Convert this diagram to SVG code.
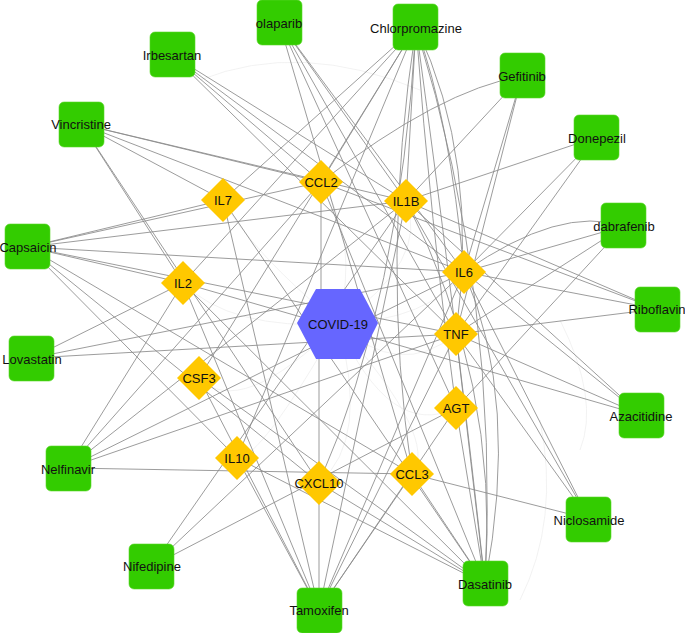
<svg xmlns="http://www.w3.org/2000/svg" width="685" height="633" viewBox="0 0 685 633">
<defs>
<style>
.e{stroke:#8a8a8a;stroke-width:0.85;fill:none}
.f{stroke:#efefef;stroke-width:0.8;fill:none}
.d rect{fill:#33CC00;stroke:#5ad62a;stroke-width:0.6}
.g polygon{fill:#FFC800}
.c polygon{fill:#6666FF}
text{font-family:"Liberation Sans",Arial,sans-serif;font-size:13px;fill:#111;text-anchor:middle;dominant-baseline:central}
</style>
</defs>
<rect width="685" height="633" fill="#fff"/>
<g id="connectors">
<g id="faint">
<path class="f" d="M338,324 Q250,250 223,200"/>
<path class="f" d="M338,324 Q360,240 321,182"/>
<path class="f" d="M338,324 Q430,260 406,201"/>
<path class="f" d="M338,324 Q230,330 183,283"/>
<path class="f" d="M338,324 Q430,320 464,272"/>
<path class="f" d="M338,324 Q400,380 456,334"/>
<path class="f" d="M338,324 Q240,420 199,378"/>
<path class="f" d="M338,324 Q390,440 456,408"/>
<path class="f" d="M338,324 Q260,460 237,458"/>
<path class="f" d="M338,324 Q370,440 319,483"/>
<path class="f" d="M338,324 Q440,440 412,474"/>
<path class="f" d="M200,80 Q300,40 420,90"/>
<path class="f" d="M540,420 Q560,520 520,600"/>
<path class="f" d="M560,320 Q600,400 580,450"/>
</g>
<line class="e" x1="321" y1="182" x2="321" y2="300"/>
<line class="e" x1="319" y1="350" x2="319" y2="610"/>
<!-- olaparib -->
<line class="e" x1="279" y1="22" x2="406" y2="201"/>
<line class="e" x1="279" y1="22" x2="464" y2="272"/>
<line class="e" x1="279" y1="22" x2="456" y2="334"/>
<line class="e" x1="279" y1="22" x2="412" y2="474"/>
<line class="e" x1="279" y1="22" x2="456" y2="408"/>
<!-- Irbesartan -->
<line class="e" x1="172" y1="55" x2="321" y2="182"/>
<line class="e" x1="172" y1="55" x2="406" y2="201"/>
<line class="e" x1="172" y1="55" x2="464" y2="272"/>
<line class="e" x1="172" y1="55" x2="456" y2="334"/>
<!-- Vincristine -->
<line class="e" x1="81" y1="124" x2="321" y2="182"/>
<line class="e" x1="81" y1="124" x2="406" y2="201"/>
<line class="e" x1="81" y1="124" x2="223" y2="200"/>
<line class="e" x1="81" y1="124" x2="183" y2="283"/>
<line class="e" x1="81" y1="124" x2="319" y2="483"/>
<line class="e" x1="81" y1="124" x2="464" y2="272"/>
<!-- Capsaicin -->
<line class="e" x1="28" y1="247" x2="223" y2="200"/>
<line class="e" x1="28" y1="247" x2="321" y2="182"/>
<line class="e" x1="28" y1="247" x2="406" y2="201"/>
<line class="e" x1="28" y1="247" x2="464" y2="272"/>
<line class="e" x1="28" y1="247" x2="456" y2="334"/>
<line class="e" x1="28" y1="247" x2="183" y2="283"/>
<line class="e" x1="28" y1="247" x2="319" y2="483"/>
<line class="e" x1="28" y1="247" x2="412" y2="474"/>
<line class="e" x1="28" y1="247" x2="237" y2="458"/>
<!-- Lovastatin -->
<line class="e" x1="32" y1="358" x2="183" y2="283"/>
<line class="e" x1="32" y1="358" x2="464" y2="272"/>
<line class="e" x1="32" y1="358" x2="456" y2="334"/>
<!-- Nelfinavir -->
<line class="e" x1="68" y1="468" x2="412" y2="474"/>
<line class="e" x1="68" y1="468" x2="464" y2="272"/>
<line class="e" x1="68" y1="468" x2="456" y2="334"/>
<line class="e" x1="68" y1="468" x2="406" y2="201"/>
<line class="e" x1="68" y1="468" x2="321" y2="182"/>
<line class="e" x1="68" y1="468" x2="183" y2="283"/>
<!-- Nifedipine -->
<line class="e" x1="152" y1="566" x2="406" y2="201"/>
<line class="e" x1="152" y1="566" x2="456" y2="408"/>
<line class="e" x1="152" y1="566" x2="464" y2="272"/>
<!-- Tamoxifen -->
<line class="e" x1="319" y1="610" x2="237" y2="458"/>
<line class="e" x1="319" y1="610" x2="199" y2="378"/>
<line class="e" x1="319" y1="610" x2="183" y2="283"/>
<line class="e" x1="319" y1="610" x2="223" y2="200"/>
<line class="e" x1="319" y1="610" x2="406" y2="201"/>
<line class="e" x1="319" y1="610" x2="464" y2="272"/>
<line class="e" x1="319" y1="610" x2="456" y2="334"/>
<line class="e" x1="319" y1="610" x2="456" y2="408"/>
<line class="e" x1="319" y1="610" x2="412" y2="474"/>
<!-- Dasatinib -->
<line class="e" x1="485" y1="584" x2="412" y2="474"/>
<line class="e" x1="485" y1="584" x2="456" y2="408"/>
<line class="e" x1="485" y1="584" x2="456" y2="334"/>
<line class="e" x1="485" y1="584" x2="321" y2="182"/>
<line class="e" x1="485" y1="584" x2="183" y2="283"/>
<line class="e" x1="485" y1="584" x2="237" y2="458"/>
<line class="e" x1="485" y1="584" x2="319" y2="483"/>
<line class="e" x1="485" y1="584" x2="199" y2="378"/>
<line class="e" x1="485" y1="584" x2="223" y2="200"/>
<path class="e" d="M485,584 Q500,380 406,201"/>
<path class="e" d="M485,584 Q520,400 464,272"/>
<!-- Niclosamide -->
<line class="e" x1="589" y1="519" x2="464" y2="272"/>
<line class="e" x1="589" y1="519" x2="456" y2="334"/>
<line class="e" x1="589" y1="519" x2="412" y2="474"/>
<line class="e" x1="589" y1="519" x2="406" y2="201"/>
<!-- Azacitidine -->
<line class="e" x1="641" y1="415" x2="464" y2="272"/>
<line class="e" x1="641" y1="415" x2="456" y2="334"/>
<line class="e" x1="641" y1="415" x2="406" y2="201"/>
<line class="e" x1="641" y1="415" x2="183" y2="283"/>
<!-- Riboflavin -->
<line class="e" x1="657" y1="309" x2="456" y2="334"/>
<line class="e" x1="657" y1="309" x2="464" y2="272"/>
<line class="e" x1="657" y1="309" x2="406" y2="201"/>
<line class="e" x1="657" y1="309" x2="321" y2="182"/>
<!-- dabrafenib -->
<line class="e" x1="624" y1="226" x2="464" y2="272"/>
<line class="e" x1="624" y1="226" x2="456" y2="334"/>
<line class="e" x1="624" y1="226" x2="456" y2="408"/>
<path class="e" d="M624,226 Q560,205 464,272"/>
<!-- Donepezil -->
<line class="e" x1="597" y1="137" x2="406" y2="201"/>
<line class="e" x1="597" y1="137" x2="464" y2="272"/>
<line class="e" x1="597" y1="137" x2="456" y2="334"/>
<!-- Gefitinib -->
<line class="e" x1="522" y1="76" x2="406" y2="201"/>
<line class="e" x1="522" y1="76" x2="464" y2="272"/>
<line class="e" x1="522" y1="76" x2="456" y2="334"/>
<path class="e" d="M522,76 Q440,90 321,182"/>
<!-- Chlorpromazine -->
<line class="e" x1="416" y1="27" x2="321" y2="182"/>
<line class="e" x1="416" y1="27" x2="406" y2="201"/>
<line class="e" x1="416" y1="27" x2="223" y2="200"/>
<line class="e" x1="416" y1="27" x2="183" y2="283"/>
<line class="e" x1="416" y1="27" x2="199" y2="378"/>
<line class="e" x1="416" y1="27" x2="237" y2="458"/>
<path class="e" d="M416,27 Q450,120 464,272"/>
<path class="e" d="M416,27 Q480,160 456,334"/>
<path class="e" d="M416,27 Q430,220 456,408"/>
<path class="e" d="M416,27 Q380,260 412,474"/>
<path class="e" d="M416,27 Q400,300 319,483"/>
<path class="e" d="M416,27 Q500,300 485,584"/>
<path class="e" d="M416,27 Q460,350 485,584"/>
</g>
<g id="covid" class="c"><polygon points="297,323 316,289 360,289 378,323 360,359 316,359"/><text x="338" y="324">COVID-19</text></g>
<g id="IL7" class="g"><polygon points="223,178 245,200 223,222 201,200"/><text x="223" y="200">IL7</text></g>
<g id="CCL2" class="g"><polygon points="321,160 343,182 321,204 299,182"/><text x="321" y="182">CCL2</text></g>
<g id="IL1B" class="g"><polygon points="406,179 428,201 406,223 384,201"/><text x="406" y="201">IL1B</text></g>
<g id="IL2" class="g"><polygon points="183,261 205,283 183,305 161,283"/><text x="183" y="283">IL2</text></g>
<g id="IL6" class="g"><polygon points="464,250 486,272 464,294 442,272"/><text x="464" y="272">IL6</text></g>
<g id="TNF" class="g"><polygon points="456,312 478,334 456,356 434,334"/><text x="456" y="334">TNF</text></g>
<g id="CSF3" class="g"><polygon points="199,356 221,378 199,400 177,378"/><text x="199" y="378">CSF3</text></g>
<g id="AGT" class="g"><polygon points="456,386 478,408 456,430 434,408"/><text x="456" y="408">AGT</text></g>
<g id="IL10" class="g"><polygon points="237,436 259,458 237,480 215,458"/><text x="237" y="458">IL10</text></g>
<g id="CXCL10" class="g"><polygon points="319,461 341,483 319,505 297,483"/><text x="319" y="483">CXCL10</text></g>
<g id="CCL3" class="g"><polygon points="412,452 434,474 412,496 390,474"/><text x="412" y="474">CCL3</text></g>
<g id="olaparib" class="d"><rect x="257" y="0" width="45" height="45" rx="5"/><text x="279" y="23">olaparib</text></g>
<g id="Irbesartan" class="d"><rect x="150" y="32" width="45" height="45" rx="5"/><text x="172" y="55">Irbesartan</text></g>
<g id="Vincristine" class="d"><rect x="59" y="102" width="45" height="45" rx="5"/><text x="81" y="124">Vincristine</text></g>
<g id="Capsaicin" class="d"><rect x="5" y="224" width="45" height="45" rx="5"/><text x="28" y="247">Capsaicin</text></g>
<g id="Lovastatin" class="d"><rect x="9" y="336" width="45" height="45" rx="5"/><text x="32" y="359">Lovastatin</text></g>
<g id="Nelfinavir" class="d"><rect x="46" y="446" width="45" height="45" rx="5"/><text x="68" y="469">Nelfinavir</text></g>
<g id="Nifedipine" class="d"><rect x="129" y="544" width="45" height="45" rx="5"/><text x="152" y="566">Nifedipine</text></g>
<g id="Tamoxifen" class="d"><rect x="297" y="588" width="45" height="45" rx="5"/><text x="319" y="610">Tamoxifen</text></g>
<g id="Dasatinib" class="d"><rect x="463" y="561" width="45" height="45" rx="5"/><text x="485" y="584">Dasatinib</text></g>
<g id="Niclosamide" class="d"><rect x="566" y="497" width="45" height="45" rx="5"/><text x="589" y="520">Niclosamide</text></g>
<g id="Azacitidine" class="d"><rect x="619" y="393" width="45" height="45" rx="5"/><text x="641" y="416">Azacitidine</text></g>
<g id="Riboflavin" class="d"><rect x="635" y="287" width="45" height="45" rx="5"/><text x="657" y="309">Riboflavin</text></g>
<g id="dabrafenib" class="d"><rect x="601" y="203" width="45" height="45" rx="5"/><text x="624" y="226">dabrafenib</text></g>
<g id="Donepezil" class="d"><rect x="574" y="115" width="45" height="45" rx="5"/><text x="597" y="138">Donepezil</text></g>
<g id="Gefitinib" class="d"><rect x="500" y="53" width="45" height="45" rx="5"/><text x="522" y="76">Gefitinib</text></g>
<g id="Chlorpromazine" class="d"><rect x="393" y="4" width="45" height="46" rx="5"/><text x="416" y="28">Chlorpromazine</text></g>
</svg>
